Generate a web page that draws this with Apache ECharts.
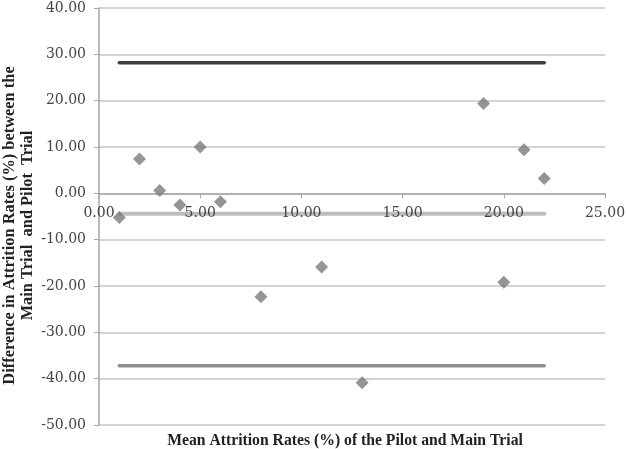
<!DOCTYPE html>
<html><head><meta charset="utf-8">
<script src="https://cdn.jsdelivr.net/npm/echarts@6/dist/echarts.min.js"></script>
<style>html,body{margin:0;padding:0;background:#fff}#c{width:627px;height:449px}</style>
</head><body><div id="c"></div>
<script>
const meanRates = [1, 2, 3, 4, 5, 6, 8, 11, 13, 19, 20, 21, 22];
const differences = [-5.2, 7.4, 0.6, -2.5, 10.0, -1.8, -22.3, -15.9, -40.9, 19.4, -19.2, 9.4, 3.2];
const lineXRange = [1, 22];
const upperLimit = 28.2;
const meanDiff = -4.4;
const lowerLimit = -37.2;
const xTitle = 'Mean Attrition Rates (%) of the Pilot and Main Trial';
const yTitle = 'Difference in Attrition Rates (%) between the\nMain Trial  and Pilot  Trial';

const gridTop = 8, gridBottom = 24, chartH = 449;
const yMin = -50, yMax = 40;
// place the x axis line where y = 0 (offset measured from the grid bottom edge)
const zeroOffset = -((chartH - gridTop - gridBottom) * (0 - yMin) / (yMax - yMin));

const chart = echarts.init(document.getElementById('c'), null, {renderer: 'canvas'});
const hline = (v, color, w) => ({
  type: 'line', data: lineXRange.map(x => [x, v]), symbol: 'none', z: 1,
  lineStyle: {color: color, width: w, cap: 'round'}, silent: true, animation: false
});
chart.setOption({
  animation: false,
  title: {
    text: xTitle, left: 340, top: 428, textAlign: 'center',
    textStyle: {fontFamily: 'Liberation Serif', fontWeight: 'bold', fontSize: 15.7, color: '#222'}
  },
  grid: {left: 99, right: 22, top: gridTop, bottom: gridBottom, containLabel: false, outerBoundsMode: 'none'},
  xAxis: {
    type: 'value', min: 0, max: 25, interval: 5, z: 5, position: 'bottom', offset: zeroOffset,
    axisLine: {onZero: false, lineStyle: {color: '#a6a6a6', width: 1.5}},
    axisTick: {show: true, inside: false, length: 5, lineStyle: {color: '#a6a6a6'}},
    axisLabel: {formatter: v => v.toFixed(2), fontFamily: 'DejaVu Serif', fontSize: 14, color: '#444', margin: 13},
    splitLine: {show: false}
  },
  yAxis: {
    type: 'value', min: yMin, max: yMax, interval: 10,
    name: yTitle, nameLocation: 'middle', nameRotate: 90, nameGap: 62, nameMoveOverlap: false,
    nameTextStyle: {fontFamily: 'Liberation Serif', fontWeight: 'bold', fontSize: 16.4, color: '#222', lineHeight: 18, padding: [0, 18, 0, 0]},
    axisLine: {show: true, onZero: false, lineStyle: {color: '#a6a6a6', width: 1.5}},
    axisTick: {show: true, length: 5, lineStyle: {color: '#a6a6a6'}},
    axisLabel: {formatter: v => v.toFixed(2), fontFamily: 'DejaVu Serif', fontSize: 14, color: '#444', margin: 13},
    splitLine: {show: true, lineStyle: {color: '#c4c4c4', width: 1.5}}
  },
  series: [
    hline(upperLimit, '#3f3f3f', 3.5),
    hline(lowerLimit, '#8e8e8e', 3.5),
    hline(meanDiff, '#bdbdbd', 4),
    {
      type: 'scatter', z: 6, symbol: 'diamond', symbolSize: 13,
      itemStyle: {color: '#7a7a7a'},
      data: meanRates.map((x, i) => [x, differences[i]])
    }
  ]
});
</script>
</body></html>
